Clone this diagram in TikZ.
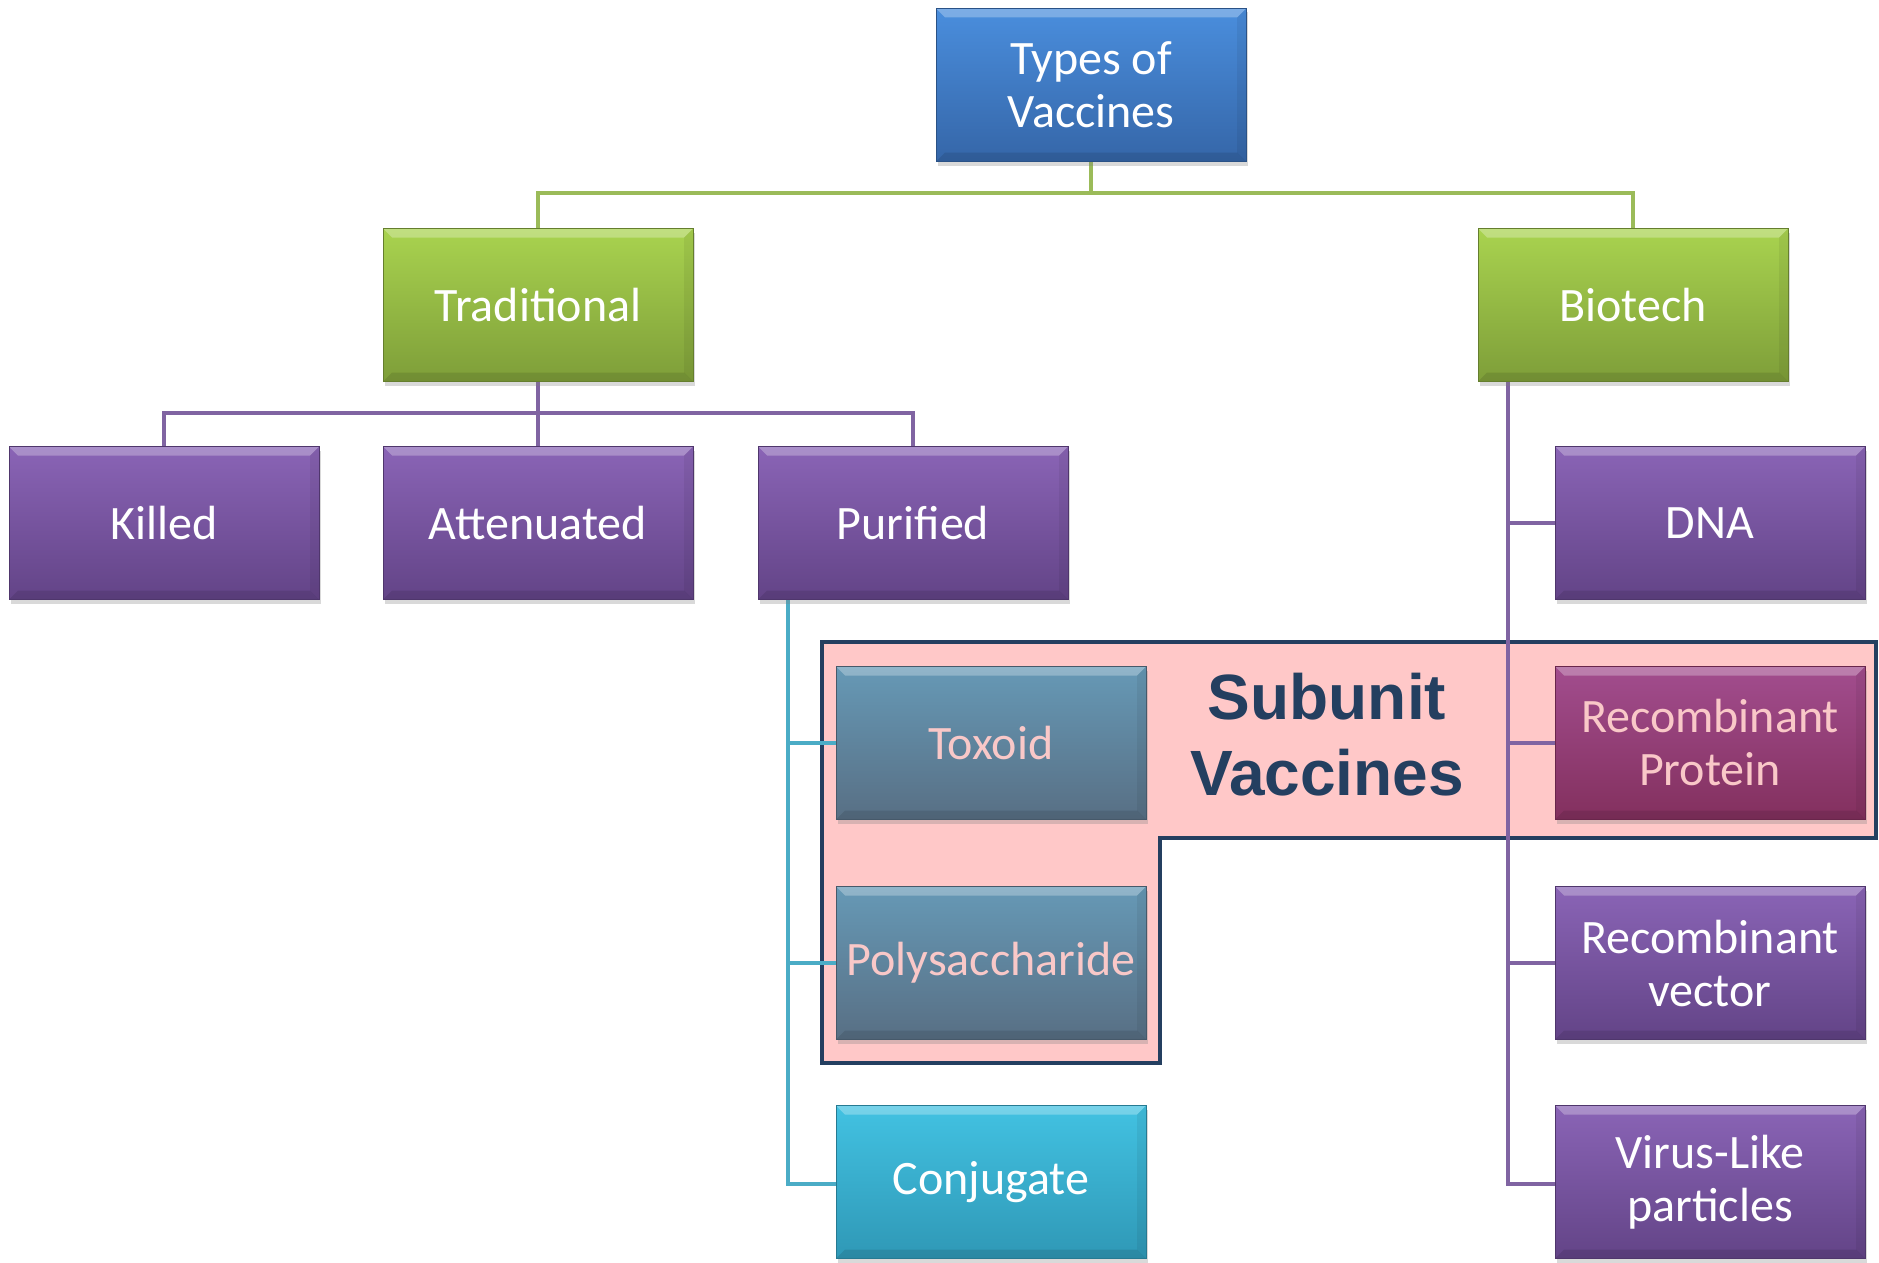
\documentclass[tikz,border=0pt]{standalone}
\usepackage{fontspec}
\setmainfont{Carlito}
\newfontfamily\subfont{Liberation Sans}
\usetikzlibrary{shadows}
\definecolor{bluetop}{HTML}{4A8EDD}
\definecolor{bluebot}{HTML}{3566A8}
\definecolor{greentop}{HTML}{A9D34F}
\definecolor{greenbot}{HTML}{7E9E39}
\definecolor{purptop}{HTML}{8A64B6}
\definecolor{purpbot}{HTML}{634487}
\definecolor{steeltop}{HTML}{6699B6}
\definecolor{steelbot}{HTML}{586F84}
\definecolor{magtop}{HTML}{A24D8E}
\definecolor{magbot}{HTML}{83305E}
\definecolor{cyantop}{HTML}{42C2E2}
\definecolor{cyanbot}{HTML}{2F98B6}
\definecolor{pinktext}{HTML}{F9C8C8}
\definecolor{greenline}{HTML}{9BBB59}
\definecolor{purpline}{HTML}{8064A2}
\definecolor{tealline}{HTML}{4BACC6}
\definecolor{navy}{HTML}{243F60}
\definecolor{pinkfill}{HTML}{FFC8C8}
\tikzset{
  box/.style={rectangle, minimum width=310pt, minimum height=153pt, inner sep=0pt,
    align=center, text=white, font=\fontsize{48}{53}\selectfont, line width=1pt,
    drop shadow={shadow xshift=2pt, shadow yshift=-4pt, opacity=0.3},
    path picture={
      \fill[white,opacity=0.28] (path picture bounding box.north west) -- (path picture bounding box.north east)
        -- ([xshift=-9pt,yshift=-9pt]path picture bounding box.north east) -- ([xshift=9pt,yshift=-9pt]path picture bounding box.north west) -- cycle;
      \fill[black,opacity=0.1] (path picture bounding box.south west) -- (path picture bounding box.south east)
        -- ([xshift=-9pt,yshift=9pt]path picture bounding box.south east) -- ([xshift=9pt,yshift=9pt]path picture bounding box.south west) -- cycle;
      \fill[black,opacity=0.06] (path picture bounding box.south east) -- (path picture bounding box.north east)
        -- ([xshift=-9pt,yshift=-9pt]path picture bounding box.north east) -- ([xshift=-9pt,yshift=9pt]path picture bounding box.south east) -- cycle;
    }},
  bluebox/.style={box, top color=bluetop, bottom color=bluebot, draw=bluebot!80!black},
  greenbox/.style={box, top color=greentop, bottom color=greenbot, draw=greenbot!80!black},
  purpbox/.style={box, top color=purptop, bottom color=purpbot, draw=purpbot!80!black},
  steelbox/.style={box, top color=steeltop, bottom color=steelbot, draw=steelbot!80!black, text=pinktext},
  magbox/.style={box, top color=magtop, bottom color=magbot, draw=magbot!80!black, text=pinktext},
  cyanbox/.style={box, top color=cyantop, bottom color=cyanbot, draw=cyanbot!80!black},
  gline/.style={draw=greenline, line width=4.5pt},
  pline/.style={draw=purpline, line width=4.5pt},
  tline/.style={draw=tealline, line width=4.5pt},
}
\begin{document}
\begin{tikzpicture}[x=1pt,y=-1pt]
\useasboundingbox (0,0) rectangle (1879,1263);
% subunit region
\draw[fill=pinkfill, draw=navy, line width=4pt] (822,642) -- (1876,642) -- (1876,838) -- (1160,838) -- (1160,1063) -- (822,1063) -- cycle;
\node[font=\subfont\bfseries\fontsize{64}{76}\selectfont, text=navy, align=center] (sub) at (1327,735) {Subunit\\Vaccines};

% coordinates for buses
\coordinate (gbus) at (1091,193);
\coordinate (pbus) at (538,413);
\coordinate (bt) at (1508,381);
\coordinate (pt) at (788,600);

% connectors
\draw[gline] (1091,162) -- (gbus);
\draw[gline] (538,228) |- (gbus) -| (1633,228);
\draw[pline] (538,381) -- (pbus);
\draw[pline] (164,447) |- (pbus) -| (913,447);
\draw[pline] (pbus) -- (538,447);
\draw[pline] (bt) -- (1508,1184) -- (1555,1184);
\draw[pline] (1508,523) -- (1555,523);
\draw[pline] (1508,743) -- (1555,743);
\draw[pline] (1508,963) -- (1555,963);
\draw[tline] (pt) -- (788,1184) -- (836,1184);
\draw[tline] (788,743) -- (836,743);
\draw[tline] (788,963) -- (836,963);

% nodes
\node[bluebox] (types) at (1091,85) {Types of\\Vaccines};
\node[greenbox] (trad) at (538,305) {Traditional};
\node[greenbox] (bio) at (1633,305) {Biotech};
\node[purpbox] (killed) at (164,523) {Killed};
\node[purpbox] (atten) at (538,523) {Attenuated};
\node[purpbox] (purif) at (913,523) {Purified};
\node[purpbox] (dna) at (1710,523) {DNA};
\node[steelbox] (toxoid) at (991,743) {Toxoid};
\node[magbox] (recprot) at (1710,743) {Recombinant\\Protein};
\node[steelbox] (poly) at (991,963) {Polysaccharide};
\node[purpbox] (recvec) at (1710,963) {Recombinant\\vector};
\node[cyanbox] (conj) at (991,1182) {Conjugate};
\node[purpbox] (vlp) at (1710,1182) {Virus-Like\\particles};
\end{tikzpicture}
\end{document}
